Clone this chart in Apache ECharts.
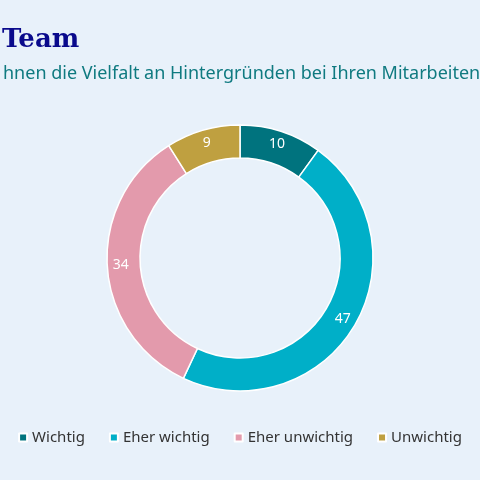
<!DOCTYPE html>
<html><head><meta charset="utf-8">
<script src="https://cdn.jsdelivr.net/npm/echarts@6/dist/echarts.min.js"></script>
<style>html,body{margin:0;background:#e8f1fa}#c{width:480px;height:480px}</style>
</head><body><div id="c"></div>
<script>
var categories = ['Wichtig', 'Eher wichtig', 'Eher unwichtig', 'Unwichtig'];
var values = [10, 47, 34, 9];
var colors = ['#00737e', '#00afc8', '#e39aac', '#bfa040'];

var chart = echarts.init(document.getElementById('c'));
chart.setOption({
  backgroundColor: '#e8f1fa',
  color: colors,
  title: [
    {text: 'Team', left: -3, top: 22,
     textStyle: {fontFamily: 'DejaVu Serif', fontWeight: 'bold', fontSize: 26, color: '#0a0a8c'}},
    {text: 'hnen die Vielfalt an Hintergründen bei Ihren Mitarbeitenden?', left: -2, top: 60,
     textStyle: {fontFamily: 'Noto Sans', fontWeight: 'normal', fontSize: 18, color: '#0f7a80'}}
  ],
  legend: {
    bottom: 30, left: 'center', icon: 'rect', itemWidth: 8, itemHeight: 8, itemGap: 24,
    textStyle: {fontFamily: 'Noto Sans', fontSize: 15, color: '#333'},
    data: categories
  },
  series: [{
    type: 'pie', center: [240, 258], radius: [100, 133], startAngle: 90,
    itemStyle: {borderColor: '#ffffff', borderWidth: 1.5},
    label: {position: 'inside', formatter: '{c}', color: '#fff', fontFamily: 'Noto Sans', fontSize: 14},
    labelLine: {show: false},
    emphasis: {disabled: true},
    data: categories.map(function (c, i) { return {name: c, value: values[i]}; })
  }]
});
</script></body></html>
